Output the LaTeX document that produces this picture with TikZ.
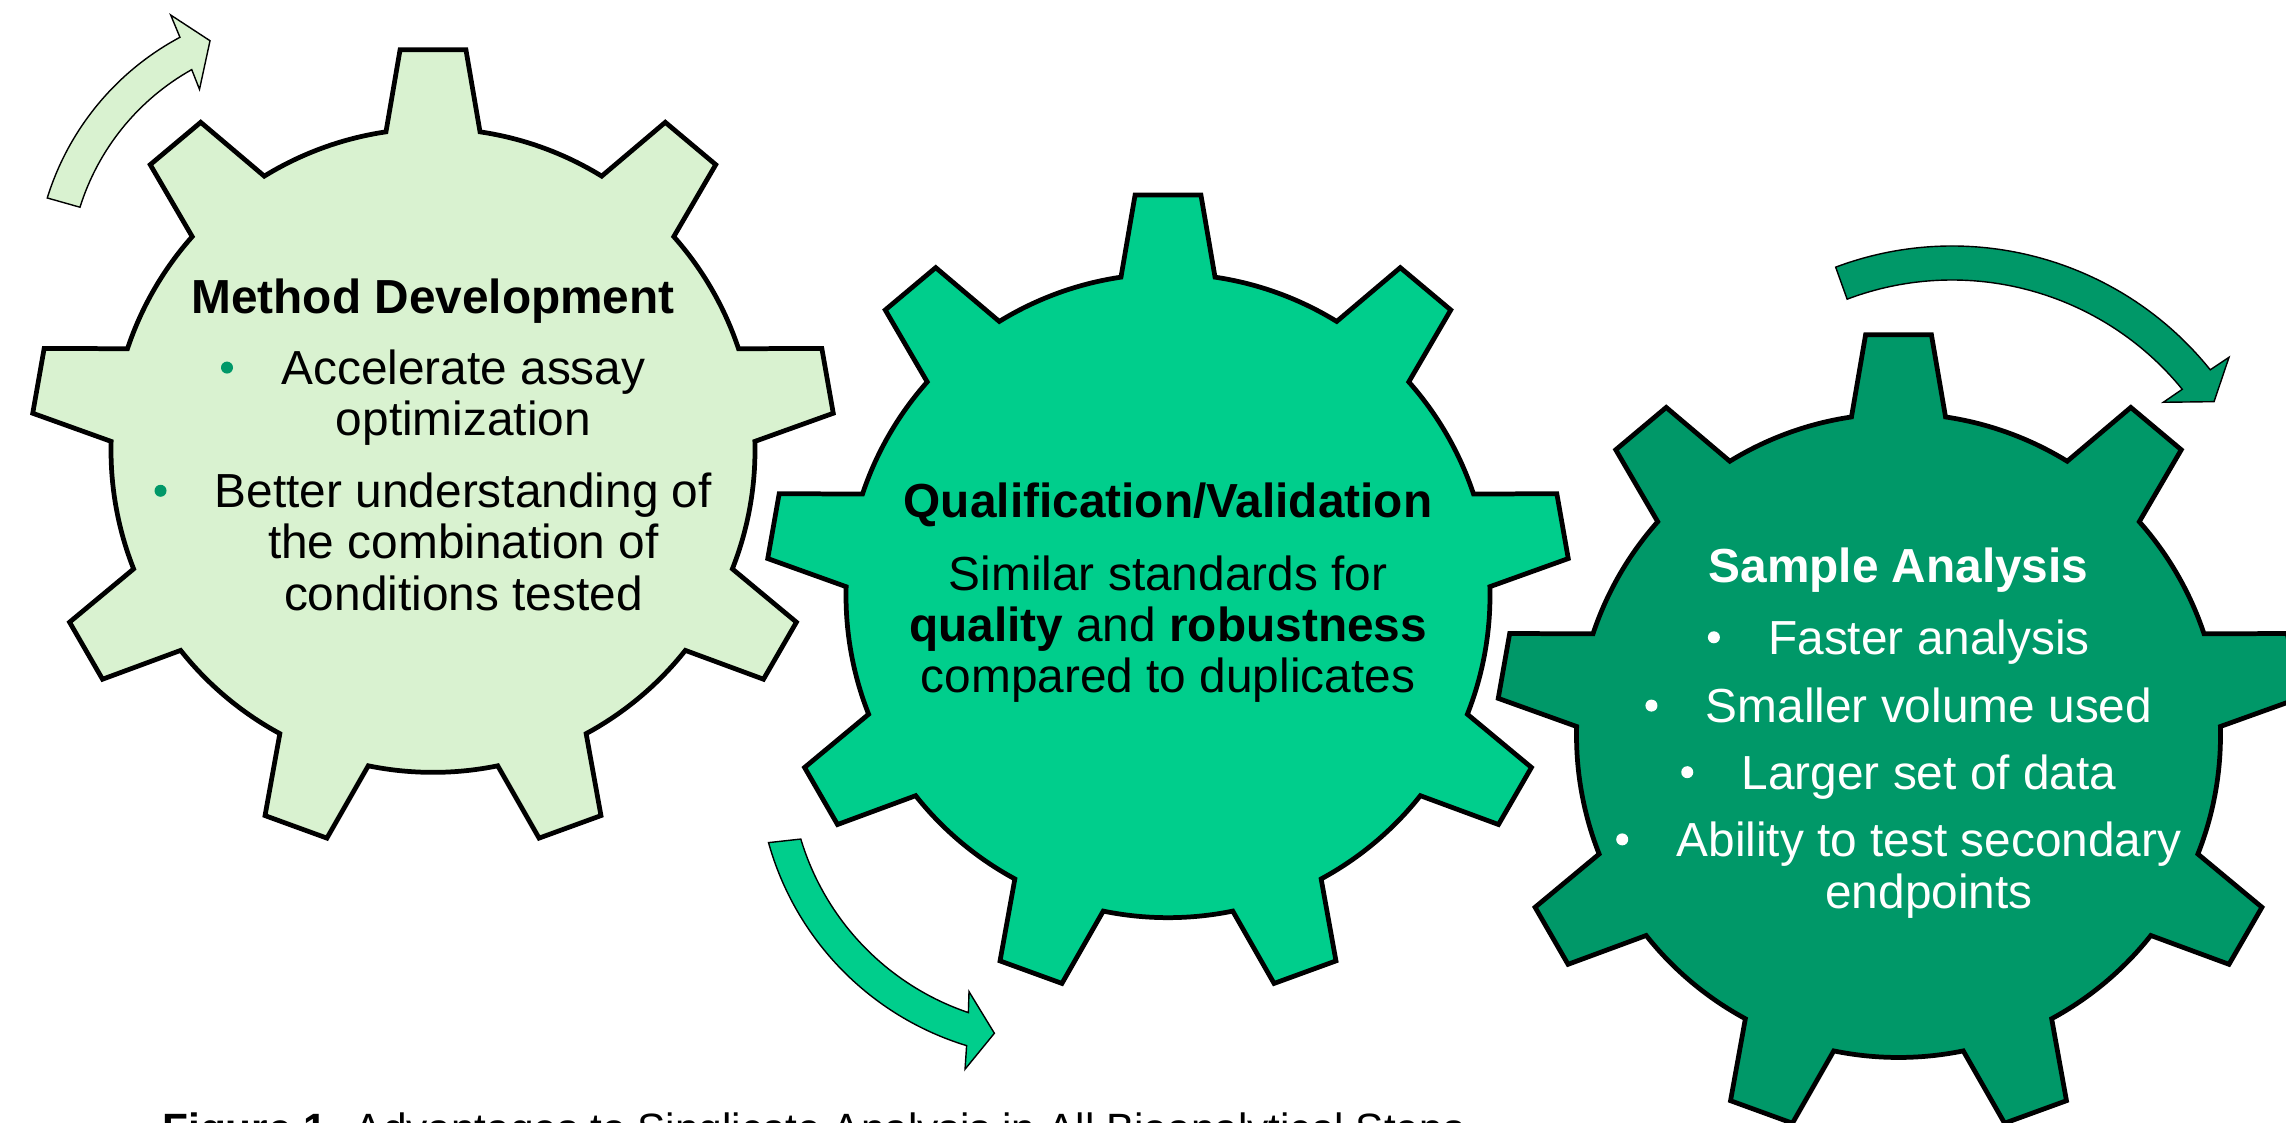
\documentclass[tikz,border=0pt]{standalone}
\usepackage{fontspec}
\setmainfont{Liberation Sans}
\usetikzlibrary{positioning}

\definecolor{paleleaf}{RGB}{217,242,208}
\definecolor{mint}{RGB}{0,206,140}
\definecolor{jade}{RGB}{0,152,104}

\tikzset{
  gearline/.style={draw=black, line width=1.35pt, line join=miter},
  swirl/.style={draw=black, line width=0.4pt, line join=miter},
  txtline/.style={font=\fontsize{13.6}{14}\selectfont, inner sep=0pt,
    text height=0.44cm, text depth=0.10cm, anchor=base},
  title/.style={txtline, font=\fontsize{13.6}{14}\selectfont\bfseries},
  dot/.style={circle, fill=#1, draw=none, inner sep=0pt, minimum size=0.12cm}
}

% nine teeth, root radius 3.22, tip radius 4.02
\newcommand{\gearwheel}[2]{%
  \begin{scope}[shift={(#1)}]
    \filldraw[gearline, fill=#2] (98.4:3.22)
      \foreach \t in {90,130,...,410}{
        arc[start angle=\t+8.4, end angle=\t+31.6, radius=3.22]
        -- (\t+35.3:4.02) -- (\t+44.7:4.02) -- (\t+48.4:3.22)
      } -- cycle;
  \end{scope}}

\begin{document}
\begin{tikzpicture}
  \useasboundingbox (0,0) rectangle (22.86,11.23);
  \fill[white] (0,0) rectangle (22.86,11.23);

  % gears
  \gearwheel{4.33,6.726}{paleleaf}
  \gearwheel{11.68,5.273}{mint}
  \gearwheel{18.985,3.875}{jade}

  % curved arrows
  \begin{scope}[shift={(3.09,8.44)}]
    \filldraw[swirl, fill=paleleaf] (162.8:2.74) arc[start angle=162.8, end angle=118.1, radius=2.74]
      -- (117.65:2.98) -- (112.56:2.58) -- (120:2.19) -- (119.25:2.40)
      arc[start angle=119.25, end angle=162.6, radius=2.40] -- cycle;
  \end{scope}
  \begin{scope}[shift={(10.527,3.595)}]
    \filldraw[swirl, fill=mint] (195.56:2.95) arc[start angle=195.56, end angle=253.03, radius=2.95]
      -- (254:3.18) -- (257.8:2.76) -- (249.85:2.43) -- (251.3:2.63)
      arc[start angle=251.3, end angle=196.7, radius=2.63] -- cycle;
  \end{scope}
  \begin{scope}[shift={(19.521,5.46)}]
    \filldraw[swirl, fill=jade] (110.6:3.31) arc[start angle=110.6, end angle=38.75, radius=3.31]
      -- (38.43:3.535) -- (33.8:3.152) -- (39.6:2.741) -- (39.2:2.97)
      arc[start angle=39.2, end angle=110.7, radius=2.97] -- cycle;
  \end{scope}

  % method development
  \node[title] (md) at (4.33,8.095) {Method Development};
  \node[txtline] (a1) at (4.634,7.384) {Accelerate assay};
  \node[txtline] (a2) at (4.634,6.874) {optimization};
  \node[txtline] (b1) at (4.634,6.152) {Better understanding of};
  \node[txtline] (b2) at (4.634,5.642) {the combination of};
  \node[txtline] (b3) at (4.634,5.126) {conditions tested};
  \node[dot=jade, left=0.47cm of a1] (a1dot) {};
  \node[dot=jade, left=0.47cm of b1] (b1dot) {};

  % qualification / validation
  \node[title] (qv) at (11.68,6.051) {Qualification/Validation};
  \node[txtline] (s1) at (11.68,5.321) {Similar standards for};
  \node[txtline] (s2) at (11.68,4.816) {\textbf{quality} and \textbf{robustness}};
  \node[txtline] (s3) at (11.68,4.30) {compared to duplicates};

  % sample analysis
  \begin{scope}[every node/.append style={text=white}]
    \node[title] (sa) at (18.985,5.40) {Sample Analysis};
    \node[txtline] (f1) at (19.29,4.687) {Faster analysis};
    \node[txtline] (f2) at (19.29,4.004) {Smaller volume used};
    \node[txtline] (f3) at (19.29,3.338) {Larger set of data};
    \node[txtline] (f4) at (19.29,2.666) {Ability to test secondary};
    \node[txtline] (f5) at (19.29,2.142) {endpoints};
  \end{scope}
  \node[dot=white, left=0.47cm of f1] (f1dot) {};
  \node[dot=white, left=0.47cm of f2] (f2dot) {};
  \node[dot=white, left=0.47cm of f3] (f3dot) {};
  \node[dot=white, left=0.47cm of f4] (f4dot) {};

  % caption
  \node[anchor=base west, inner sep=0pt, font=\fontsize{12.06}{13}\selectfont] (cap) at (1.617,-0.207)
    {\textbf{Figure 1.} Advantages to Singlicate Analysis in All Bioanalytical Steps};
\end{tikzpicture}
\end{document}
